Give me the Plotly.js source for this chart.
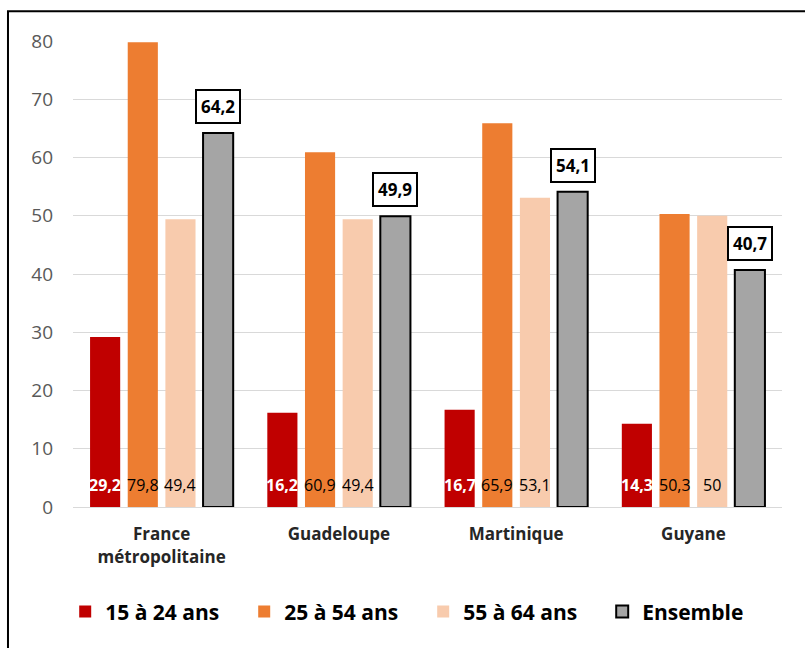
<!DOCTYPE html>
<html>
<head>
<meta charset="utf-8">
<script src="https://cdn.plot.ly/plotly-3.0.1.min.js"></script>
<style>
  body { margin: 0; background: #fff; }
  #chart { width: 805px; height: 648px; }
</style>
</head>
<body>
<div id="chart"></div>
<script>
// Data
const regions = ["France<br>métropolitaine", "Guadeloupe", "Martinique", "Guyane"];
const seriesNames = ["15 à 24 ans", "25 à 54 ans", "55 à 64 ans", "Ensemble"];
const age15_24 = [29.2, 16.2, 16.7, 14.3];
const age25_54 = [79.8, 60.9, 65.9, 50.3];
const age55_64 = [49.4, 49.4, 53.1, 50];
const ensemble = [64.2, 49.9, 54.1, 40.7];

const allSeries = [age15_24, age25_54, age55_64, ensemble];
const colors = ["#c00000", "#ed7d31", "#f8cbad", "#a5a5a5"];
const font = "Open Sans, Noto Sans, sans-serif";
const bargap = 0.15;
const slot = (1 - bargap) / allSeries.length;

function fmt(v) {
    return String(v).replace(".", ",");
}

// One bar trace per series
let traces = allSeries.map(function (vals, i) {
    return {
        type: "bar",
        name: seriesNames[i],
        x: regions,
        y: vals,
        marker: {
            color: colors[i],
            line: { color: i === 3 ? "#000" : colors[i], width: i === 3 ? 2 : 0 }
        },
        hoverinfo: "y"
    };
});

// Data labels: small ones near the base, boxed ones above Ensemble bars
let annotations = [];
allSeries.forEach(function (vals, i) {
    vals.forEach(function (v, g) {
        let xpos = g + (i - 1.5) * slot;
        if (i < 3) {
            annotations.push({
                x: xpos, y: 3.8, xref: "x", yref: "y",
                text: i === 0 ? "<b>" + fmt(v) + "</b>" : fmt(v),
                showarrow: false, yanchor: "middle",
                font: { family: font, size: 16, color: i === 0 ? "#fff" : "#000" }
            });
        } else {
            annotations.push({
                x: xpos, y: v, xref: "x", yref: "y",
                text: "<b>" + fmt(v) + "</b>",
                showarrow: false, yanchor: "bottom", yshift: 9,
                bordercolor: "#000", borderwidth: 2, borderpad: 4,
                bgcolor: "#fff",
                font: { family: font, size: 17, color: "#000" }
            });
        }
    });
});

let layout = {
    width: 805,
    height: 648,
    margin: { l: 73, r: 23, t: 41, b: 141, autoexpand: false },
    paper_bgcolor: "#fff",
    plot_bgcolor: "#fff",
    barmode: "group",
    bargap: bargap,
    bargroupgap: 0.2,
    showlegend: true,
    legend: {
        orientation: "h",
        x: -0.011, xanchor: "left",
        y: -0.225, yanchor: "middle",
        font: { family: font, size: 21, color: "#000", weight: "bold" },
        itemwidth: 30,
        entrywidth: 134,
        entrywidthmode: "pixels",
        traceorder: "normal"
    },
    xaxis: {
        type: "category",
        showgrid: false,
        showline: true,
        linecolor: "#d9d9d9",
        linewidth: 1,
        ticks: "",
        ticklabelstandoff: 12,
        tickfont: { family: font, size: 17, color: "#262626", weight: "bold" }
    },
    yaxis: {
        range: [0, 80],
        dtick: 10,
        showgrid: true,
        gridcolor: "#d9d9d9",
        zeroline: true,
        zerolinecolor: "#d9d9d9",
        ticks: "",
        ticklabelstandoff: 19,
        tickfont: { family: font, size: 19, color: "#595959" }
    },
    annotations: annotations,
    shapes: [{
        type: "rect", xref: "paper", yref: "paper",
        x0: -0.0917, x1: 1.2, y0: -0.5, y1: 1.064,
        line: { color: "#000", width: 2 }
    }]
};

Plotly.newPlot("chart", traces, layout, { displayModeBar: false, staticPlot: true });
</script>
</body>
</html>
